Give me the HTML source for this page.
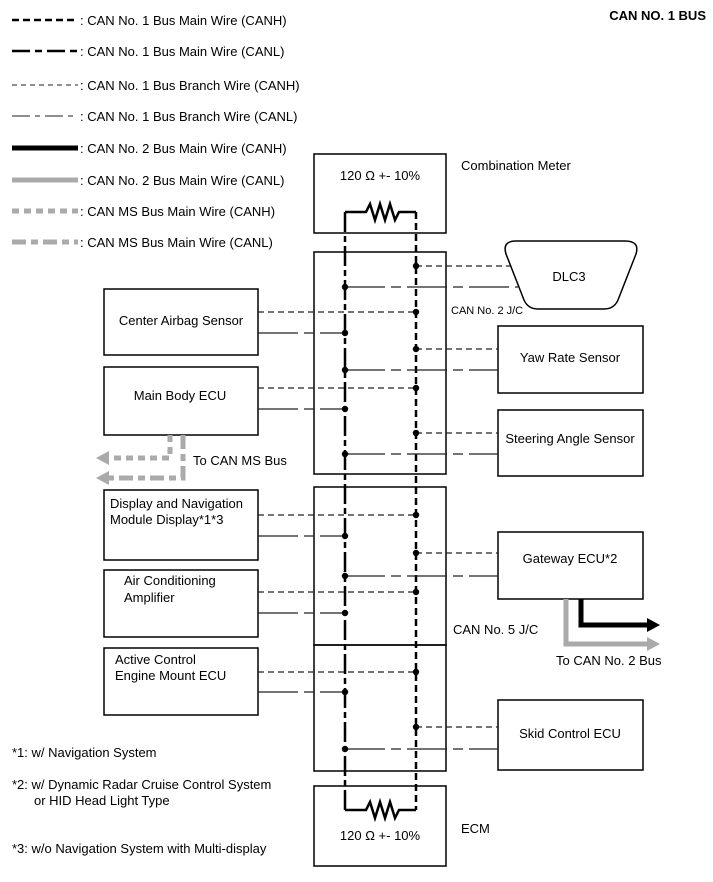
<!DOCTYPE html>
<html><head><meta charset="utf-8"><style>
html,body{margin:0;padding:0;background:#fff}
svg{display:block}
text{font-family:"Liberation Sans",Arial,sans-serif;font-size:13px;fill:#000}
</style></head><body>
<svg width="713" height="882" viewBox="0 0 713 882" xmlns="http://www.w3.org/2000/svg">
<!-- legend -->
<g stroke-linecap="butt">
<line x1="12" y1="20" x2="78" y2="20" stroke="#000" stroke-width="2.5" stroke-dasharray="7,4"/>
<line x1="12" y1="51" x2="78" y2="51" stroke="#000" stroke-width="2.5" stroke-dasharray="18,5,7,5"/>
<line x1="12" y1="85" x2="78" y2="85" stroke="#222" stroke-width="1" stroke-dasharray="5,4"/>
<line x1="12" y1="116" x2="78" y2="116" stroke="#222" stroke-width="1" stroke-dasharray="18,5,5,5"/>
<line x1="12" y1="148" x2="78" y2="148" stroke="#000" stroke-width="5"/>
<line x1="12" y1="180" x2="78" y2="180" stroke="#aaa" stroke-width="5"/>
<line x1="12" y1="211" x2="78" y2="211" stroke="#aaa" stroke-width="5" stroke-dasharray="7,5"/>
<line x1="12" y1="242" x2="78" y2="242" stroke="#aaa" stroke-width="5" stroke-dasharray="14,5,7,5"/>
</g>
<text x="80" y="25">: CAN No. 1 Bus Main Wire (CANH)</text>
<text x="80" y="56">: CAN No. 1 Bus Main Wire (CANL)</text>
<text x="80" y="90">: CAN No. 1 Bus Branch Wire (CANH)</text>
<text x="80" y="121">: CAN No. 1 Bus Branch Wire (CANL)</text>
<text x="80" y="153">: CAN No. 2 Bus Main Wire (CANH)</text>
<text x="80" y="185">: CAN No. 2 Bus Main Wire (CANL)</text>
<text x="80" y="216">: CAN MS Bus Main Wire (CANH)</text>
<text x="80" y="247">: CAN MS Bus Main Wire (CANL)</text>
<text x="706" y="20" text-anchor="end" style="font-weight:bold">CAN NO. 1 BUS</text>

<!-- boxes -->
<g fill="none" stroke="#000" stroke-width="1.5">
<rect x="314" y="154" width="132" height="79"/>
<rect x="314" y="252" width="132" height="222"/>
<rect x="314" y="487" width="132" height="158"/>
<rect x="314" y="645" width="132" height="126"/>
<rect x="314" y="786" width="132" height="80"/>
<rect x="104" y="289" width="154" height="66"/>
<rect x="104" y="367" width="154" height="68"/>
<rect x="104" y="490" width="154" height="70"/>
<rect x="104" y="570" width="154" height="67"/>
<rect x="104" y="648" width="154" height="67"/>
<rect x="498" y="326" width="145" height="67"/>
<rect x="498" y="410" width="145" height="66"/>
<rect x="498" y="532" width="145" height="67"/>
<rect x="498" y="700" width="145" height="70"/>
<path d="M516,241 L625,241 Q640,241 636,254 L618,300 Q614,309 604,309 L538,309 Q528,309 524,300 L506,254 Q502,241 516,241 Z"/>
</g>

<!-- resistors -->
<g fill="none" stroke="#000" stroke-width="2.5">
<path d="M345,212 L366,212 L370,204 L375,220 L380,204 L385,220 L390,204 L395,220 L399,212 L416,212"/>
<path d="M345,810 L366,810 L370,802 L375,818 L380,802 L385,818 L390,802 L395,818 L399,810 L416,810"/>
</g>
<!-- main bus -->
<line x1="345" y1="212" x2="345" y2="810" stroke="#000" stroke-width="2.5" stroke-dasharray="20,4,6,4"/>
<line x1="416" y1="212" x2="416" y2="810" stroke="#000" stroke-width="2.5" stroke-dasharray="7,4"/>

<!-- branches -->
<g stroke-width="1.2" fill="none">
<g stroke="#222" stroke-dasharray="6,4">
<line x1="416" y1="266" x2="510" y2="266"/>
<line x1="258" y1="312" x2="416" y2="312"/>
<line x1="416" y1="349" x2="498" y2="349"/>
<line x1="258" y1="388" x2="416" y2="388"/>
<line x1="416" y1="433" x2="498" y2="433"/>
<line x1="258" y1="515" x2="416" y2="515"/>
<line x1="416" y1="553" x2="498" y2="553"/>
<line x1="258" y1="592" x2="416" y2="592"/>
<line x1="258" y1="672" x2="416" y2="672"/>
<line x1="416" y1="727" x2="498" y2="727"/>
</g>
<g stroke="#222" stroke-dasharray="40,6,10,6">
<line x1="345" y1="287" x2="518" y2="287"/>
<line x1="258" y1="333" x2="345" y2="333"/>
<line x1="345" y1="370" x2="498" y2="370"/>
<line x1="258" y1="409" x2="345" y2="409"/>
<line x1="345" y1="454" x2="498" y2="454"/>
<line x1="258" y1="536" x2="345" y2="536"/>
<line x1="345" y1="576" x2="498" y2="576"/>
<line x1="258" y1="613" x2="345" y2="613"/>
<line x1="258" y1="692" x2="345" y2="692"/>
<line x1="345" y1="749" x2="498" y2="749"/>
</g>
</g>
<g fill="#000">
<circle cx="416" cy="266" r="3.2"/><circle cx="345" cy="287" r="3.2"/>
<circle cx="416" cy="312" r="3.2"/><circle cx="345" cy="333" r="3.2"/>
<circle cx="416" cy="349" r="3.2"/><circle cx="345" cy="370" r="3.2"/>
<circle cx="416" cy="388" r="3.2"/><circle cx="345" cy="409" r="3.2"/>
<circle cx="416" cy="433" r="3.2"/><circle cx="345" cy="454" r="3.2"/>
<circle cx="416" cy="515" r="3.2"/><circle cx="345" cy="536" r="3.2"/>
<circle cx="416" cy="553" r="3.2"/><circle cx="345" cy="576" r="3.2"/>
<circle cx="416" cy="592" r="3.2"/><circle cx="345" cy="613" r="3.2"/>
<circle cx="416" cy="672" r="3.2"/><circle cx="345" cy="692" r="3.2"/>
<circle cx="416" cy="727" r="3.2"/><circle cx="345" cy="749" r="3.2"/>
</g>

<!-- MS bus -->
<g fill="none" stroke="#aaa" stroke-width="5">
<path d="M170,435 L170,458 L108,458" stroke-dasharray="7,5"/>
<path d="M183,435 L183,478 L108,478" stroke-dasharray="14,5,7,5"/>
</g>
<g fill="#aaa">
<polygon points="96,458 109,451 109,465"/>
<polygon points="96,478 109,471 109,485"/>
</g>
<text x="193" y="465">To CAN MS Bus</text>

<!-- CAN2 arrows -->
<path d="M566,599 L566,644 L648,644" fill="none" stroke="#aaa" stroke-width="5"/>
<polygon points="660,644 647,637 647,651" fill="#aaa"/>
<path d="M581,599 L581,625 L648,625" fill="none" stroke="#000" stroke-width="5"/>
<polygon points="660,625 647,618 647,632" fill="#000"/>
<text x="556" y="665">To CAN No. 2 Bus</text>

<!-- labels -->
<text x="380" y="180" text-anchor="middle">120 Ω +- 10%</text>
<text x="380" y="840" text-anchor="middle">120 Ω +- 10%</text>
<text x="461" y="170">Combination Meter</text>
<text x="461" y="833">ECM</text>
<text x="451" y="314" style="font-size:11px">CAN No. 2 J/C</text>
<text x="453" y="634">CAN No. 5 J/C</text>
<text x="569" y="281" text-anchor="middle">DLC3</text>
<text x="181" y="325" text-anchor="middle">Center Airbag Sensor</text>
<text x="180" y="400" text-anchor="middle">Main Body ECU</text>
<text x="110" y="508">Display and Navigation</text>
<text x="110" y="524">Module Display*1*3</text>
<text x="124" y="585">Air Conditioning</text>
<text x="124" y="602">Amplifier</text>
<text x="115" y="664">Active Control</text>
<text x="115" y="680">Engine Mount ECU</text>
<text x="570" y="362" text-anchor="middle">Yaw Rate Sensor</text>
<text x="570" y="443" text-anchor="middle">Steering Angle Sensor</text>
<text x="570" y="563" text-anchor="middle">Gateway ECU*2</text>
<text x="570" y="738" text-anchor="middle">Skid Control ECU</text>
<text x="12" y="757">*1: w/ Navigation System</text>
<text x="12" y="789">*2: w/ Dynamic Radar Cruise Control System</text>
<text x="34" y="805">or HID Head Light Type</text>
<text x="12" y="853">*3: w/o Navigation System with Multi-display</text>
</svg>
</body></html>
